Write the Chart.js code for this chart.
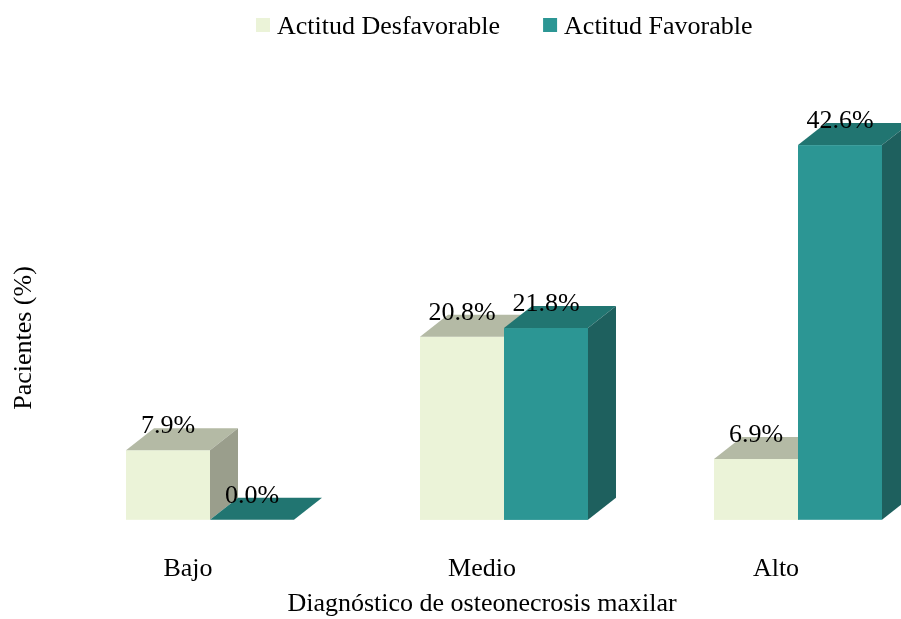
<!DOCTYPE html>
<html>
<head>
<meta charset="utf-8">
<title>Diagnóstico de osteonecrosis maxilar</title>
<script src="https://cdn.jsdelivr.net/npm/chart.js@4.4.1/dist/chart.umd.min.js"></script>
<style>
  html, body { margin: 0; padding: 0; background: #fff; }
  #wrap { width: 901px; height: 619px; }
</style>
</head>
<body>
<div id="wrap"><canvas id="bar-chart"></canvas></div>
<script>
// data
var categories = ["Bajo", "Medio", "Alto"];
var seriesNames = ["Actitud Desfavorable", "Actitud Favorable"];
var desfavorable = [7.9, 20.8, 6.9];
var favorable = [0.0, 21.8, 42.6];

var FONT = "'Liberation Serif', 'Times New Roman', serif";

// front / top / side shades for each series
var shades = [
  { front: '#EBF3D8', top: '#B4BAA5', side: '#9A9E8C' },
  { front: '#2C9694', top: '#217571', side: '#1E605E' }
];
var depthX = 28, depthY = 22;

// draws the boxes category by category so the nearer faces cover the others
var cube3d = {
  id: 'cube3d',
  afterDatasetsDraw: function (chart) {
    var ctx = chart.ctx;
    var metas = chart.data.datasets.map(function (ds, d) { return chart.getDatasetMeta(d); });
    ctx.save();
    for (var i = 0; i < categories.length; i++) {
      for (var d = 0; d < metas.length; d++) {
        var p = metas[d].data[i].getProps(['x', 'y', 'base', 'width'], true);
        var l = p.x - p.width / 2, r = p.x + p.width / 2, t = p.y, b = p.base;
        var c = shades[d];
        ctx.fillStyle = c.front;
        ctx.fillRect(l, t, r - l, b - t);
        // top face
        ctx.fillStyle = c.top;
        ctx.beginPath();
        ctx.moveTo(l, t);
        ctx.lineTo(r, t);
        ctx.lineTo(r + depthX, t - depthY);
        ctx.lineTo(l + depthX, t - depthY);
        ctx.closePath();
        ctx.fill();
        // right face
        if (b - t > 0) {
          ctx.fillStyle = c.side;
          ctx.beginPath();
          ctx.moveTo(r, t);
          ctx.lineTo(r + depthX, t - depthY);
          ctx.lineTo(r + depthX, b - depthY);
          ctx.lineTo(r, b);
          ctx.closePath();
          ctx.fill();
        }
      }
    }
    // value labels
    ctx.fillStyle = '#000';
    ctx.font = '26px ' + FONT;
    ctx.textAlign = 'center';
    ctx.textBaseline = 'alphabetic';
    chart.data.datasets.forEach(function (ds, d) {
      metas[d].data.forEach(function (bar, i) {
        var p = bar.getProps(['x', 'y'], true);
        ctx.fillText(ds.data[i].toFixed(1) + '%', p.x, p.y - 17);
      });
    });
    ctx.restore();
  },
  afterDraw: function (chart) {
    var ctx = chart.ctx;
    ctx.save();
    ctx.font = '26px ' + FONT;
    ctx.fillStyle = '#000';
    ctx.textBaseline = 'alphabetic';

    // legend
    var x = 256;
    chart.data.datasets.forEach(function (ds, d) {
      ctx.fillStyle = shades[d].front;
      ctx.fillRect(x, 18, 14, 14);
      ctx.fillStyle = '#000';
      ctx.textAlign = 'left';
      ctx.fillText(ds.label, x + 21, 34);
      x += 21 + ctx.measureText(ds.label).width + 43;
    });

    // axis titles
    ctx.textAlign = 'center';
    ctx.fillText('Diagnóstico de osteonecrosis maxilar', 482, 611);
    ctx.translate(31, 338);
    ctx.rotate(-Math.PI / 2);
    ctx.fillText('Pacientes (%)', 0, 0);
    ctx.restore();
  }
};

var ctxBar = document.getElementById('bar-chart');

var chartGraph = new Chart(ctxBar, {
  type: 'bar',
  data: {
    labels: categories,
    datasets: [
      {
        label: seriesNames[0],
        data: desfavorable,
        backgroundColor: shades[0].front,
        barPercentage: 1,
        categoryPercentage: 0.5714
      },
      {
        label: seriesNames[1],
        data: favorable,
        backgroundColor: shades[1].front,
        barPercentage: 1,
        categoryPercentage: 0.5714
      }
    ]
  },
  options: {
    responsive: true,
    maintainAspectRatio: false,
    animation: false,
    layout: { padding: { top: 80, left: 210, right: 103, bottom: 0 } },
    plugins: {
      legend: { display: false },
      tooltip: { enabled: false }
    },
    scales: {
      x: {
        offset: false,
        grid: { display: false, drawTicks: false },
        border: { display: false },
        ticks: {
          color: '#000',
          font: { family: FONT, size: 26 },
          padding: 34,
          labelOffset: -22
        }
      },
      y: { display: false, min: 0, max: 50 }
    }
  },
  plugins: [cube3d]
});
</script>
</body>
</html>
